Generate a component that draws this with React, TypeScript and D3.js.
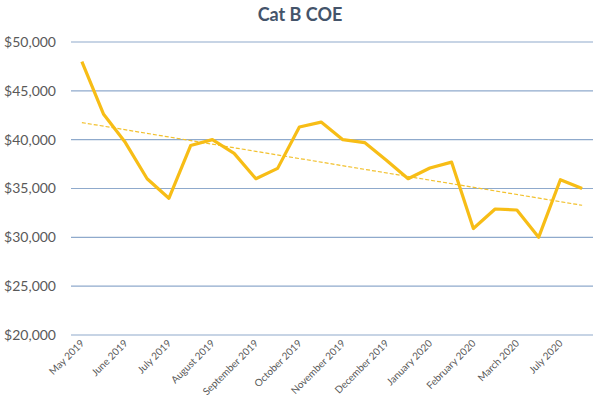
import React from "react";
import * as d3 from "d3";

const title = "Cat B COE";
const values = [
  48000, 42600, 39700, 36000, 34000, 39400, 40000, 38600, 36000, 37060, 41300, 41800,
  40000, 39700, 37900, 36000, 37100, 37700, 30900, 32900, 32800, 30000, 35900, 35000,
];
const tickLabels = [
  "May 2019", "June 2019", "July 2019", "August 2019", "September 2019", "October 2019",
  "November 2019", "December 2019", "January 2020", "February 2020", "March 2020", "July 2020",
];
const yTicks = [20000, 25000, 30000, 35000, 40000, 45000, 50000];

const W = 600;
const H = 400;
const margin = { left: 71, right: 7, top: 42, bottom: 65 };
const FONT = "Lato, 'Open Sans', sans-serif";

export default function App() {
  const idx = values.map((_, i) => i);
  const x = d3
    .scaleBand<number>()
    .domain(idx)
    .range([margin.left, W - margin.right]);
  const cx = (i: number) => (x(i) as number) + x.bandwidth() / 2;
  const y = d3.scaleLinear().domain([20000, 50000]).range([H - margin.bottom, margin.top]);

  const line = d3
    .line<number>()
    .x((_, i) => cx(i))
    .y((d) => y(d))
    .curve(d3.curveLinear);

  // linear trendline (least squares)
  const n = values.length;
  const mx = d3.mean(idx) as number;
  const my = d3.mean(values) as number;
  const slope =
    d3.sum(idx, (i) => (i - mx) * (values[i] - my)) / d3.sum(idx, (i) => (i - mx) * (i - mx));
  const intercept = my - slope * mx;
  const trend = [0, n - 1].map((i) => [cx(i), y(intercept + slope * i)] as [number, number]);

  const fmt = (v: number) => "$" + d3.format(",")(v);

  return (
    <svg
      width={W}
      height={H}
      style={{ position: "absolute", left: 0, top: 0, background: "#fff" }}
      fontFamily={FONT}
    >
      <text x={300} y={21} textAnchor="middle" fontSize={18} fontWeight="bold" fill="#44546A">
        {title}
      </text>
      {yTicks.map((t) => (
        <g key={t}>
          <line
            x1={margin.left}
            x2={W - margin.right}
            y1={y(t)}
            y2={y(t)}
            stroke="#8FAACC"
            strokeWidth={1.2}
          />
          <text
            x={56}
            y={y(t)}
            dy="0.35em"
            textAnchor="end"
            fontSize={14}
            fill="#595959"
          >
            {fmt(t)}
          </text>
        </g>
      ))}
      {tickLabels.map((lab, k) => {
        const px = cx(k * 2) + 3;
        const py = H - margin.bottom + 9;
        return (
          <text
            key={lab}
            x={px}
            y={py}
            textAnchor="end"
            fontSize={10}
            fill="#595959"
            transform={`rotate(-45, ${px}, ${py})`}
          >
            {lab}
          </text>
        );
      })}
      <line
        x1={trend[0][0]}
        y1={trend[0][1]}
        x2={trend[1][0]}
        y2={trend[1][1]}
        stroke="#F2C12E"
        strokeWidth={1.2}
        strokeDasharray="4,2"
      />
      <path
        d={line(values) || ""}
        fill="none"
        stroke="#F7BD16"
        strokeWidth={3.2}
        strokeLinejoin="round"
      />
    </svg>
  );
}
